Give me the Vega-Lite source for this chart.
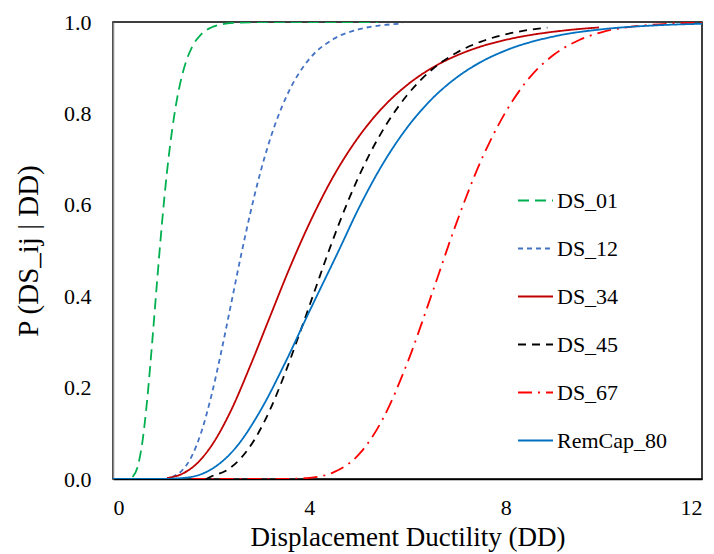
{
  "$schema": "https://vega.github.io/schema/vega-lite/v6.json",
  "width": 589,
  "height": 457,
  "autosize": {"type": "none"},
  "padding": {"left": 113, "top": 22, "right": 12, "bottom": 75},
  "background": "white",
  "config": {
    "font": "Liberation Serif",
    "style": {"guide-label": {"font": "Liberation Serif", "fill": "#000"}, "guide-title": {"font": "Liberation Serif", "fill": "#000"}},
    "view": {"stroke": "#000", "strokeWidth": 1.5},
    "legend": {"labelFont": "Liberation Serif"},
    "axis": {"grid": false, "ticks": false, "labelFont": "Liberation Serif", "titleFont": "Liberation Serif", "labelColor": "#000", "titleColor": "#000", "titleFontWeight": "normal"}
  },
  "data": {"values": [
    {"s":"DS_01","DD":0.4,"P":0.0044},{"s":"DS_01","DD":0.5,"P":0.0259},{"s":"DS_01","DD":0.6,"P":0.082},{"s":"DS_01","DD":0.7,"P":0.1775},{"s":"DS_01","DD":0.8,"P":0.301},{"s":"DS_01","DD":0.9,"P":0.435},{"s":"DS_01","DD":1.0,"P":0.562},{"s":"DS_01","DD":1.1,"P":0.672},{"s":"DS_01","DD":1.2,"P":0.76},{"s":"DS_01","DD":1.3,"P":0.829},{"s":"DS_01","DD":1.4,"P":0.88},{"s":"DS_01","DD":1.5,"P":0.917},{"s":"DS_01","DD":1.6,"P":0.943},{"s":"DS_01","DD":1.8,"P":0.9736},{"s":"DS_01","DD":2.0,"P":0.988},{"s":"DS_01","DD":2.3,"P":0.9963},{"s":"DS_01","DD":2.6,"P":0.9989},{"s":"DS_01","DD":3.0,"P":0.9997},{"s":"DS_01","DD":4.0,"P":1.0},{"s":"DS_01","DD":5.4,"P":1.0},
    {"s":"DS_12","DD":1.2,"P":0.0044},{"s":"DS_12","DD":1.4,"P":0.0178},{"s":"DS_12","DD":1.6,"P":0.0488},{"s":"DS_12","DD":1.8,"P":0.103},{"s":"DS_12","DD":2.0,"P":0.1806},{"s":"DS_12","DD":2.2,"P":0.2756},{"s":"DS_12","DD":2.4,"P":0.38},{"s":"DS_12","DD":2.6,"P":0.485},{"s":"DS_12","DD":2.8,"P":0.583},{"s":"DS_12","DD":3.0,"P":0.67},{"s":"DS_12","DD":3.3,"P":0.775},{"s":"DS_12","DD":3.6,"P":0.852},{"s":"DS_12","DD":4.0,"P":0.919},{"s":"DS_12","DD":4.5,"P":0.9633},{"s":"DS_12","DD":5.0,"P":0.9838},{"s":"DS_12","DD":5.5,"P":0.9931},{"s":"DS_12","DD":5.9,"P":0.9964},
    {"s":"DS_34","DD":1.1,"P":0.0022},{"s":"DS_34","DD":1.4,"P":0.0109},{"s":"DS_34","DD":1.7,"P":0.0329},{"s":"DS_34","DD":2.0,"P":0.0718},{"s":"DS_34","DD":2.4,"P":0.149},{"s":"DS_34","DD":2.8,"P":0.2486},{"s":"DS_34","DD":3.2,"P":0.3557},{"s":"DS_34","DD":3.6,"P":0.462},{"s":"DS_34","DD":4.0,"P":0.559},{"s":"DS_34","DD":4.5,"P":0.664},{"s":"DS_34","DD":5.0,"P":0.748},{"s":"DS_34","DD":5.5,"P":0.8135},{"s":"DS_34","DD":6.0,"P":0.8628},{"s":"DS_34","DD":6.5,"P":0.8996},{"s":"DS_34","DD":7.0,"P":0.9266},{"s":"DS_34","DD":7.5,"P":0.9465},{"s":"DS_34","DD":8.0,"P":0.9609},{"s":"DS_34","DD":8.5,"P":0.9714},{"s":"DS_34","DD":9.0,"P":0.979},{"s":"DS_34","DD":9.5,"P":0.9847},{"s":"DS_34","DD":9.9,"P":0.988},
    {"s":"DS_45","DD":1.9,"P":0.0},{"s":"DS_45","DD":2.0,"P":0.0055},{"s":"DS_45","DD":2.3,"P":0.0181},{"s":"DS_45","DD":2.6,"P":0.0449},{"s":"DS_45","DD":2.9,"P":0.0893},{"s":"DS_45","DD":3.2,"P":0.1518},{"s":"DS_45","DD":3.5,"P":0.23},{"s":"DS_45","DD":3.8,"P":0.318},{"s":"DS_45","DD":4.1,"P":0.409},{"s":"DS_45","DD":4.4,"P":0.5},{"s":"DS_45","DD":4.8,"P":0.611},{"s":"DS_45","DD":5.2,"P":0.705},{"s":"DS_45","DD":5.6,"P":0.781},{"s":"DS_45","DD":6.0,"P":0.841},{"s":"DS_45","DD":6.5,"P":0.896},{"s":"DS_45","DD":7.0,"P":0.9328},{"s":"DS_45","DD":7.5,"P":0.9572},{"s":"DS_45","DD":8.0,"P":0.973},{"s":"DS_45","DD":8.5,"P":0.9831},{"s":"DS_45","DD":8.85,"P":0.9878},
    {"s":"DS_67","DD":1.6,"P":0.0},{"s":"DS_67","DD":2.5,"P":0.0},{"s":"DS_67","DD":3.5,"P":0.0002},{"s":"DS_67","DD":4.0,"P":0.0026},{"s":"DS_67","DD":4.5,"P":0.015},{"s":"DS_67","DD":5.0,"P":0.0526},{"s":"DS_67","DD":5.5,"P":0.132},{"s":"DS_67","DD":6.0,"P":0.255},{"s":"DS_67","DD":6.5,"P":0.406},{"s":"DS_67","DD":7.0,"P":0.561},{"s":"DS_67","DD":7.5,"P":0.697},{"s":"DS_67","DD":8.0,"P":0.803},{"s":"DS_67","DD":8.5,"P":0.88},{"s":"DS_67","DD":9.0,"P":0.9298},{"s":"DS_67","DD":9.5,"P":0.9606},{"s":"DS_67","DD":10.0,"P":0.9789},{"s":"DS_67","DD":10.5,"P":0.9888},{"s":"DS_67","DD":11.0,"P":0.9943},{"s":"DS_67","DD":11.5,"P":0.9971},{"s":"DS_67","DD":12.0,"P":0.9986},
    {"s":"RemCap_80","DD":0.0,"P":0.0},{"s":"RemCap_80","DD":0.5,"P":0.0},{"s":"RemCap_80","DD":1.0,"P":0.0001},{"s":"RemCap_80","DD":1.5,"P":0.0031},{"s":"RemCap_80","DD":2.0,"P":0.0211},{"s":"RemCap_80","DD":2.5,"P":0.0684},{"s":"RemCap_80","DD":3.0,"P":0.149},{"s":"RemCap_80","DD":3.5,"P":0.2527},{"s":"RemCap_80","DD":4.0,"P":0.3665},{"s":"RemCap_80","DD":4.6,"P":0.5},{"s":"RemCap_80","DD":5.0,"P":0.591},{"s":"RemCap_80","DD":5.5,"P":0.69},{"s":"RemCap_80","DD":6.0,"P":0.77},{"s":"RemCap_80","DD":6.5,"P":0.832},{"s":"RemCap_80","DD":7.0,"P":0.8784},{"s":"RemCap_80","DD":7.5,"P":0.9128},{"s":"RemCap_80","DD":8.0,"P":0.9377},{"s":"RemCap_80","DD":9.0,"P":0.9688},{"s":"RemCap_80","DD":10.0,"P":0.9845},{"s":"RemCap_80","DD":11.0,"P":0.9923},{"s":"RemCap_80","DD":12.0,"P":0.9961}
  ]},
  "mark": {"type": "line", "interpolate": "monotone", "clip": true},
  "encoding": {
    "x": {"field": "DD", "type": "quantitative", "scale": {"domain": [0, 12], "nice": false},
      "axis": {"values": [0, 4, 8, 12], "title": "Displacement Ductility (DD)", "labelFontSize": 22, "titleFontSize": 27, "labelPadding": 18, "titlePadding": 6, "domainColor": "#000", "domainWidth": 1.5}},
    "y": {"field": "P", "type": "quantitative", "scale": {"domain": [0, 1], "nice": false},
      "axis": {"values": [0, 0.2, 0.4, 0.6, 0.8, 1.0], "format": ".1f", "title": "P (DS_ij | DD)", "labelFontSize": 22, "titleFontSize": 29, "labelPadding": 22, "titlePadding": 20, "domainColor": "#888", "domainWidth": 1.5}},
    "color": {"field": "s", "type": "nominal", "title": null,
      "scale": {"domain": ["DS_01","DS_12","DS_34","DS_45","DS_67","RemCap_80"], "range": ["#00B050","#4472C4","#C00000","#000000","#FF0000","#0070C0"]},
      "legend": {"orient": "none", "legendX": 404, "legendY": 160, "symbolType": "stroke", "symbolSize": 1225, "labelFontSize": 22, "labelColor": "#000", "rowPadding": 18, "labelOffset": 3}},
    "strokeDash": {"field": "s", "type": "nominal", "title": null,
      "scale": {"domain": ["DS_01","DS_12","DS_34","DS_45","DS_67","RemCap_80"], "range": [[11,6],[5,4],[1,0],[8,6],[14,6,2,6],[1,0]]}},
    "strokeWidth": {"field": "s", "type": "nominal", "title": null,
      "scale": {"domain": ["DS_01","DS_12","DS_34","DS_45","DS_67","RemCap_80"], "range": [1.8,1.8,1.6,2.6,2.2,3.4]}}
  }
}
